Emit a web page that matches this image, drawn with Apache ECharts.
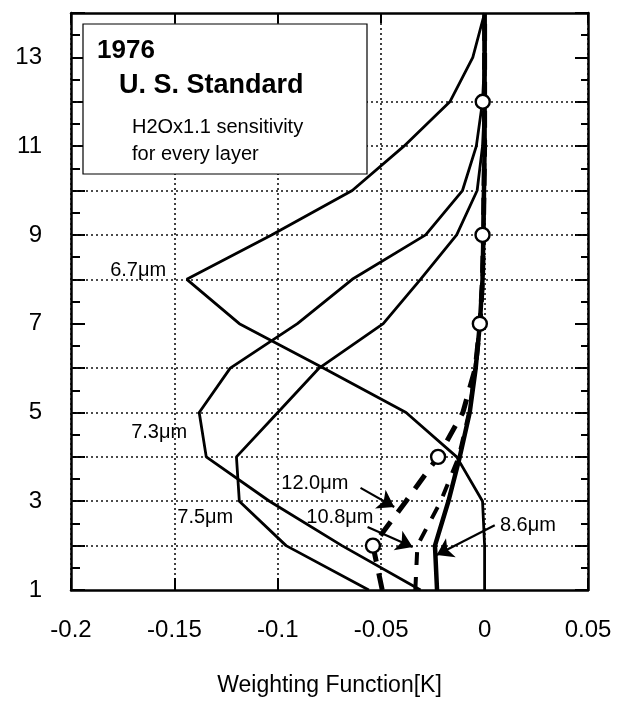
<!DOCTYPE html>
<html>
<head>
<meta charset="utf-8">
<script src="https://cdn.jsdelivr.net/npm/echarts@6/dist/echarts.min.js"></script>
<style>
html, body { margin: 0; padding: 0; background: #fff; }
#chart { width: 618px; height: 711px; }
</style>
</head>
<body>
<div id="chart"></div>
<script>
// height levels, one weighting value per level for each channel
const levels = [1, 2, 3, 4, 5, 6, 7, 8, 9, 10, 11, 12, 13, 14];
const w67  = [0, 0, -0.001, -0.0135, -0.038, -0.078, -0.1186, -0.144, -0.103, -0.064, -0.039, -0.0168, -0.0057, 0];
const w73  = [-0.031, -0.069, -0.104, -0.1346, -0.138, -0.123, -0.0905, -0.064, -0.0285, -0.0107, -0.004, -0.001, 0, 0];
const w75  = [-0.056, -0.096, -0.1186, -0.12, -0.1, -0.08, -0.049, -0.031, -0.0135, -0.0036, -0.001, 0, 0, 0];
const w86  = [-0.023, -0.024, -0.0175, -0.012, -0.0072, -0.0043, -0.0023, -0.001, -0.0006, -0.0003, 0, 0, 0, 0];
const w108 = [-0.0335, -0.0325, -0.0212, -0.0125, -0.0075, -0.0045, -0.0022, -0.001, -0.0006, -0.0003, 0, 0, 0, 0];
const w120 = [-0.0495, -0.054, -0.038, -0.0225, -0.0105, -0.0045, -0.0022, -0.001, -0.0006, -0.0003, 0, 0, 0, 0];

// open circles
const circleX = [-0.054, -0.0225, -0.0023, -0.001, -0.0009];
const circleY = [2, 4, 7, 9, 12];

// tick labels / grid
const yTickLabels = ['1', '3', '5', '7', '9', '11', '13'];
const gridLevels = [2, 3, 4, 5, 6, 8, 9, 10, 11, 12];

// curve labels
const labelText = ['6.7\u03bcm', '7.3\u03bcm', '7.5\u03bcm', '12.0\u03bcm', '10.8\u03bcm', '8.6\u03bcm'];
const labelX = [-0.154, -0.1709, -0.1486, -0.0983, -0.0862, 0.0074];
const labelY = [8.21, 4.56, 2.64, 3.41, 2.64, 2.46];
const labelSide = ['left', 'right', 'right', 'right', 'right', 'right'];

// arrows: [fromX, fromY, toX, toY]
const arrows = [
  [-0.060, 3.30, -0.0437, 2.87],
  [-0.0566, 2.42, -0.0348, 1.97],
  [0.0049, 2.46, -0.0232, 1.79]
];

const FONT = '"Liberation Sans", Arial, Helvetica, sans-serif';

const pairs = (xs) => xs.map((x, i) => [x, levels[i]]);

const curve = (name, xs, width, type) => ({
  name: name,
  type: 'line',
  data: pairs(xs),
  symbol: 'none',
  z: 5,
  lineStyle: { color: '#000', width: width, type: type || 'solid', cap: 'butt' }
});

const chart = echarts.init(document.getElementById('chart'));

chart.setOption({
  animation: false,
  backgroundColor: '#fff',
  grid: { left: 71, right: 30, top: 13, bottom: 121 },
  xAxis: [
    {
      type: 'value', min: -0.2, max: 0.05, interval: 0.05,
      position: 'bottom',
      axisLine: { onZero: false, lineStyle: { color: '#000', width: 2.5 } },
      axisTick: { inside: true, length: 12, lineStyle: { color: '#000', width: 2 } },
      axisLabel: { color: '#000', fontSize: 24, fontFamily: FONT, margin: 28 },
      splitLine: { show: true, lineStyle: { color: '#111', width: 1.6, type: [2, 3] } },
      name: 'Weighting Function[K]',
      nameLocation: 'middle',
      nameGap: 84,
      nameTextStyle: { color: '#000', fontSize: 23, fontFamily: FONT }
    },
    {
      type: 'value', min: -0.2, max: 0.05, interval: 0.05,
      position: 'top',
      axisLine: { onZero: false, lineStyle: { color: '#000', width: 2.5 } },
      axisTick: { inside: true, length: 10, lineStyle: { color: '#000', width: 2 } },
      axisLabel: { show: false },
      splitLine: { show: false }
    }
  ],
  yAxis: [
    {
      type: 'value', min: 1, max: 14, interval: 1,
      position: 'left',
      axisLine: { onZero: false, lineStyle: { color: '#000', width: 2.5 } },
      axisTick: { inside: true, length: 14, lineStyle: { color: '#000', width: 2 } },
      minorTick: { show: true, splitNumber: 2, length: 9, lineStyle: { color: '#000', width: 2 } },
      axisLabel: {
        color: '#000', fontSize: 24, fontFamily: FONT, margin: 29,
        formatter: (v) => yTickLabels.indexOf(String(v)) >= 0 ? String(v) : ''
      },
      splitLine: { show: false }
    },
    {
      type: 'value', min: 1, max: 14, interval: 1,
      position: 'right',
      axisLine: { onZero: false, lineStyle: { color: '#000', width: 2.5 } },
      axisTick: { inside: true, length: 13, lineStyle: { color: '#000', width: 2 } },
      minorTick: { show: true, splitNumber: 2, length: 7, lineStyle: { color: '#000', width: 2 } },
      axisLabel: { show: false },
      splitLine: { show: false }
    }
  ],
  graphic: [
    {
      type: 'rect', z: 100,
      shape: { x: 83, y: 24, width: 284, height: 150 },
      style: { fill: '#fff', stroke: '#000', lineWidth: 1.2 }
    },
    {
      type: 'text', z: 101, left: 97, top: 38,
      style: { text: '1976', fill: '#000', font: 'bold 26px ' + FONT }
    },
    {
      type: 'text', z: 101, left: 119, top: 72,
      style: { text: 'U. S. Standard', fill: '#000', font: 'bold 27px ' + FONT }
    },
    {
      type: 'text', z: 101, left: 132, top: 117,
      style: { text: 'H2Ox1.1 sensitivity', fill: '#000', font: '20px ' + FONT }
    },
    {
      type: 'text', z: 101, left: 132, top: 144,
      style: { text: 'for every layer', fill: '#000', font: '20px ' + FONT }
    }
  ],
  series: [
    {
      name: 'grid',
      type: 'line',
      data: [],
      z: 1,
      markLine: {
        silent: true,
        symbol: 'none',
        label: { show: false },
        lineStyle: { color: '#111', width: 1.6, type: [2, 3] },
        data: gridLevels.map((v) => ({ yAxis: v }))
      }
    },
    curve('6.7', w67, 2.8),
    curve('7.3', w73, 2.8),
    curve('7.5', w75, 2.8),
    curve('8.6', w86, 4.5),
    curve('10.8', w108, 4, [13, 12]),
    curve('12.0', w120, 5, [17, 12]),
    {
      name: 'circles',
      type: 'scatter',
      z: 8,
      symbol: 'circle',
      symbolSize: 14,
      itemStyle: { color: '#fff', borderColor: '#000', borderWidth: 2.4, opacity: 1 },
      data: circleX.map((x, i) => [x, circleY[i]])
    },
    {
      name: 'labels',
      type: 'scatter',
      z: 9,
      symbolSize: 0,
      silent: true,
      itemStyle: { opacity: 1 },
      data: labelText.map((t, i) => ({
        value: [labelX[i], labelY[i]],
        label: {
          show: true,
          formatter: t,
          position: labelSide[i],
          distance: 0,
          color: '#000',
          opacity: 1,
          fontSize: 20,
          fontFamily: FONT
        }
      }))
    },
    {
      name: 'arrows',
      type: 'line',
      data: [],
      z: 9,
      markLine: {
        silent: true,
        symbol: ['none', 'arrow'],
        symbolSize: 16,
        label: { show: false },
        itemStyle: { color: '#000' },
        lineStyle: { color: '#000', width: 2.2, type: 'solid', opacity: 1 },
        data: arrows.map((a) => [{ coord: [a[0], a[1]] }, { coord: [a[2], a[3]] }])
      }
    }
  ]
});
</script>
</body>
</html>
